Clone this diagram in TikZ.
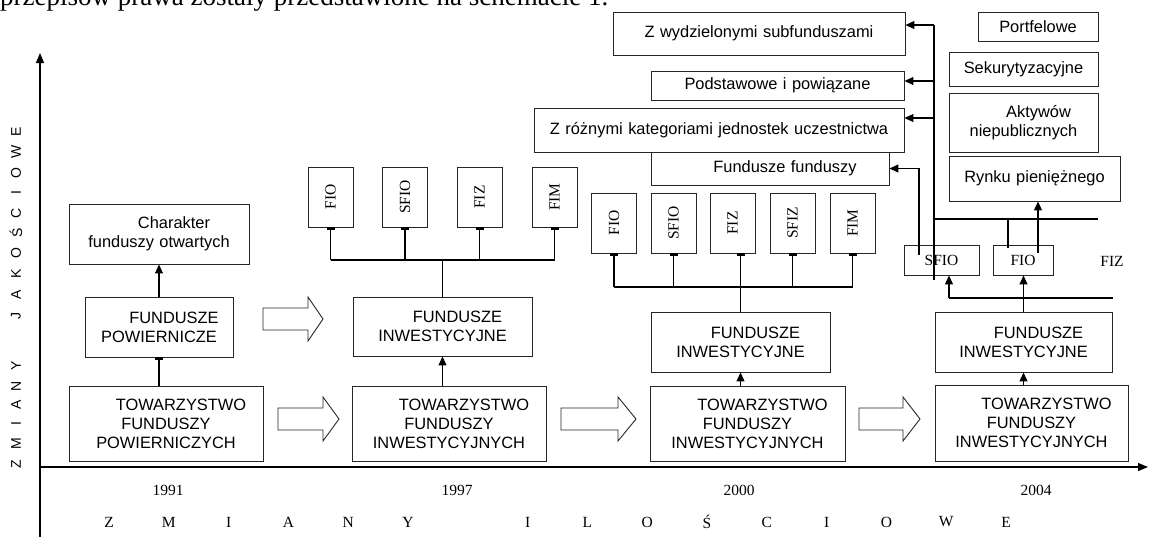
\documentclass[tikz,border=0pt]{standalone}
\usepackage{fontspec}
\setmainfont{Liberation Serif}
\setsansfont{Liberation Sans}
\usetikzlibrary{arrows.meta}

\begin{document}
\begin{tikzpicture}[x=1pt,y=-1pt,
  box/.style 2 args={draw=black!85, line width=0.9pt, inner sep=0pt, align=center,
    text width=#1, minimum width=#1, minimum height=#2,
    font=\sffamily\fontsize{16.4}{19}\selectfont},
  sbox/.style={draw=black!85, line width=0.9pt, inner sep=0pt, minimum width=45,
    minimum height=60, font=\fontsize{15.5}{18}\selectfont},
  ser/.style={font=\fontsize{15.5}{18}\selectfont},
  tip/.style={line width=1.1pt, -{Triangle[length=9pt,width=8pt]}},
  tee/.style={line width=1.1pt, -{Rectangle[length=2.5pt,width=8pt]}},
  wire/.style={line width=1.1pt},
  axis/.style={line width=1.1pt, -{Triangle[length=10pt,width=8pt]}}]
\useasboundingbox (0,0) rectangle (1149,539);

\node[anchor=base west, inner sep=0pt, font=\fontsize{27}{30}\selectfont] (head) at (0,5)
  {przepisów prawa zostały przedstawione na schemacie 1.};

\coordinate (o) at (40,467);
\coordinate (ytop) at (40,53);
\coordinate (ybot) at (40,537);
\coordinate (xend) at (1148,467);
\draw[axis] (ybot) -- (ytop);
\draw[axis] (o) -- (xend);

\foreach \l/\y [count=\i] in {Z/464,M/444,I/424,A/405,N/386,Y/366,J/316,A/295,K/274,
  O/253,Ś/233,C/213,I/193,O/173,W/152,E/132}
  \node[rotate=90, font=\sffamily\fontsize{14}{16}\selectfont] (jak\i) at (16,\y) {\l};
\foreach \l/\k in {Z/0,M/1,I/2,A/3,N/4,Y/5,I/7,L/8,O/9,Ś/10,C/11,I/12,O/13,W/14,E/15}
  \node[ser] (il\k) at (109+59.8*\k,522) {\l};

\node[ser] (y1) at (168,490) {1991};
\node[ser] (y2) at (457,490) {1997};
\node[ser] (y3) at (739,490) {2000};
\node[ser] (y4) at (1036,490) {2004};

\node[box={180}{60}] (ch1) at (159,234) {\hspace*{30pt}Charakter\\funduszy otwartych};
\node[box={148}{60}] (fp1) at (159,327) {\hspace*{30pt}FUNDUSZE\\POWIERNICZE};
\node[box={194}{75}] (tf1) at (166,423.5) {\hspace*{30pt}TOWARZYSTWO\\FUNDUSZY\\POWIERNICZYCH};
\draw[tip] (fp1.north) -- (ch1.south);
\draw[tee] (tf1.north -| fp1) -- (fp1.south);

\node[sbox] (fio2) at (330.5,197) {\rotatebox{90}{FIO}};
\node[sbox] (sfio2) at (405,197) {\rotatebox{90}{SFIO}};
\node[sbox] (fiz2) at (479.5,197) {\rotatebox{90}{FIZ}};
\node[sbox] (fim2) at (554.5,197) {\rotatebox{90}{FIM}};
\node[box={179}{59}] (fi2) at (442.5,326.5) {\hspace*{30pt}FUNDUSZE\\INWESTYCYJNE};
\node[box={194}{75}] (tf2) at (449,423.5) {\hspace*{30pt}TOWARZYSTWO\\FUNDUSZY\\INWESTYCYJNYCH};
\coordinate (bus2) at (0,260);
\draw[wire] (fio2 |- bus2) -- (fim2 |- bus2);
\foreach \n in {fio2,sfio2,fiz2,fim2}
  \draw[tee] (\n |- bus2) -- (\n.south);
\draw[wire] (fi2.north) -- (fi2 |- bus2);
\draw[tip] (tf2.north -| fi2) -- (fi2.south);

\node[sbox] (fio3) at (614,223) {\rotatebox{90}{FIO}};
\node[sbox] (sfio3) at (673.5,223) {\rotatebox{90}{SFIO}};
\node[sbox] (fiz3) at (732.5,223) {\rotatebox{90}{FIZ}};
\node[sbox] (sfiz3) at (792.5,223) {\rotatebox{90}{SFIZ}};
\node[sbox] (fim3) at (852.5,223) {\rotatebox{90}{FIM}};
\node[box={179}{60}] (fi3) at (740.5,342) {\hspace*{30pt}FUNDUSZE\\INWESTYCYJNE};
\node[box={195}{75}] (tf3) at (747.5,423.5) {\hspace*{30pt}TOWARZYSTWO\\FUNDUSZY\\INWESTYCYJNYCH};
\coordinate (bus3) at (0,287);
\draw[wire] (fio3 |- bus3) -- (fim3 |- bus3);
\foreach \n in {fio3,sfio3,sfiz3,fim3}
  \draw[tee] (\n |- bus3) -- (\n.south);
\draw[tee] (fi3.north) -- (fi3.north |- fiz3.south);
\draw[tip] (tf3.north -| fi3) -- (fi3.south);

\node[box={292}{43}] (zw) at (759,33.5) {Z wydzielonymi subfunduszami};
\node[box={253}{29}] (pod) at (777.5,85.5) {Podstawowe i powiązane};
\node[box={370}{44}] (zr) at (719,130) {Z różnymi kategoriami jednostek uczestnictwa};
\node[box={238}{33}] (ff) at (770,168.5) {\hspace*{30pt}Fundusze funduszy};
\node[box={120}{29}] (port) at (1038,26.5) {Portfelowe};
\node[box={149}{34}] (sek) at (1023.5,69) {Sekurytyzacyjne};
\node[box={149}{59}] (akt) at (1023.5,122.5) {\hspace*{30pt}Aktywów\\niepublicznych};
\node[box={171}{45}] (ryn) at (1034.5,178.5) {Rynku pieniężnego};

\node[box={75}{30}, font=\fontsize{15.5}{18}\selectfont] (sfio4) at (941.5,260) {SFIO};
\node[box={60}{30}, font=\fontsize{15.5}{18}\selectfont] (fio4) at (1023,260) {FIO};
\node[ser] (fiz4) at (1112,261) {FIZ};
\node[box={177}{60}] (fi4) at (1023.5,342) {\hspace*{30pt}FUNDUSZE\\INWESTYCYJNE};
\node[box={193}{76}] (tf4) at (1031.5,423) {\hspace*{30pt}TOWARZYSTWO\\FUNDUSZY\\INWESTYCYJNYCH};

\coordinate (a1) at (934,25);
\coordinate (a2) at (934,81);
\coordinate (a3) at (934,118);
\coordinate (v2) at (934,280);
\draw[wire] (a1) -- (v2);
\draw[tip] (a1) -- (a1 -| zw.east);
\draw[tip] (a2) -- (a2 -| pod.east);
\draw[tip] (a3) -- (a3 -| zr.east);
\coordinate (s1) at (919,255);
\draw[tip] (s1) |- (ff.east);
\coordinate (h1) at (934,219);
\coordinate (h2) at (1098,219);
\coordinate (h3) at (1008,219);
\draw[wire] (h1) -- (h2);
\draw[wire] (h3) -- (1008,248);
\coordinate (r1) at (1038,253);
\draw[tip] (r1) -- (r1 |- ryn.south);
\coordinate (l1) at (949,298);
\coordinate (l2) at (1113,298);
\draw[wire] (l1) -- (l2);
\draw[tip] (l1) -- (l1 |- sfio4.south);
\draw[tip] (fi4.north) -- (fi4.north |- fio4.south);
\draw[tip] (tf4.north -| fi4) -- (fi4.south);

\foreach \xa/\xb/\xc/\yc in {263/308/323/319, 278/323/339/419, 561/618/636/419, 859/903/920/419}
  \draw[line width=0.9pt, black!85] (\xa,\yc-11) -- (\xb,\yc-11) -- (\xb,\yc-22) -- (\xc,\yc)
    -- (\xb,\yc+22) -- (\xb,\yc+11) -- (\xa,\yc+11) -- cycle;
\end{tikzpicture}
\end{document}
